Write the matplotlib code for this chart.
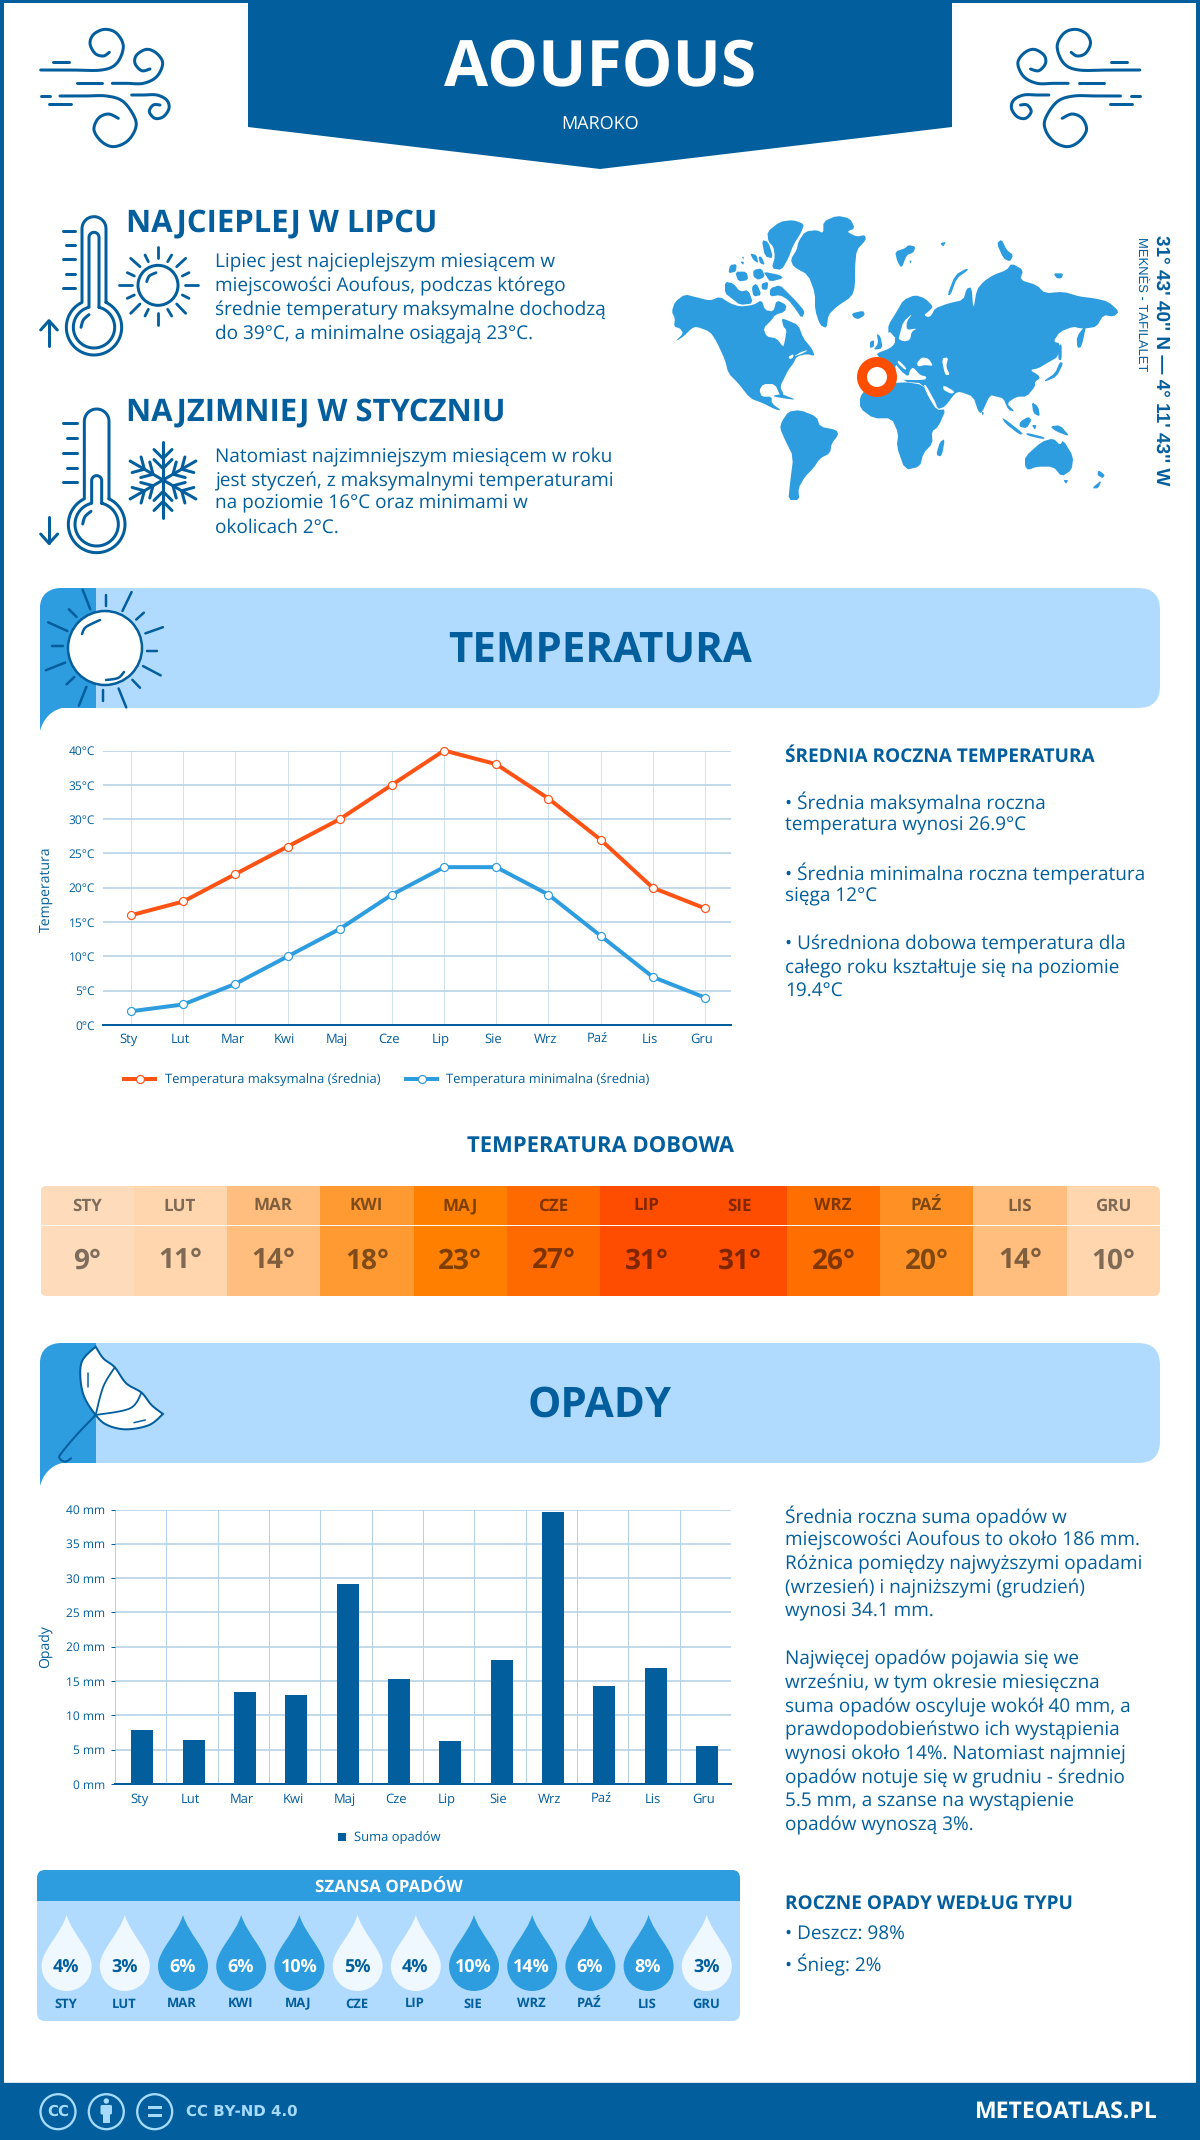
#!/usr/bin/env python3
"""
Climate infographic for Aoufous (Maroko)
Temperature line chart, daily table, rainfall bars, chance of rain
"""

import numpy as np
import matplotlib
matplotlib.use('Agg')
import matplotlib.pyplot as plt
from matplotlib.patches import Circle, FancyBboxPatch, PathPatch, Polygon, Rectangle
from matplotlib.path import Path
from matplotlib.transforms import ScaledTranslation

plt.rcParams['font.family'] = ['Open Sans', 'DejaVu Sans']
plt.rcParams['text.hinting'] = 'none'
plt.rcParams['text.hinting_factor'] = 1

# ----- data -----
months = ['Sty', 'Lut', 'Mar', 'Kwi', 'Maj', 'Cze', 'Lip', 'Sie', 'Wrz', 'Paź', 'Lis', 'Gru']
months_upper = ['STY', 'LUT', 'MAR', 'KWI', 'MAJ', 'CZE', 'LIP', 'SIE', 'WRZ', 'PAŹ', 'LIS', 'GRU']
temp_max = [16, 18, 22, 26, 30, 35, 40, 38, 33, 27, 20, 17]
temp_min = [2, 3, 6, 10, 14, 19, 23, 23, 19, 13, 7, 4]
temp_daily = [9, 11, 14, 18, 23, 27, 31, 31, 26, 20, 14, 10]
daily_colors = ['#FEDBBB', '#FFD6AE', '#FFBE7D', '#FF9A33', '#FF8000', '#FF6A00',
                '#FF4D00', '#FF4D00', '#FF6E00', '#FF9124', '#FFBE7D', '#FFD6AE']
rain = [7.9, 6.4, 13.4, 13.0, 29.1, 15.3, 6.3, 18.0, 39.6, 14.3, 16.9, 5.5]
rain_chance = [4, 3, 6, 6, 10, 5, 4, 10, 14, 6, 8, 3]

NAVY = '#025E9C'
MID = '#2E9DDF'
LIGHT = '#B0DBFF'
ORANGE = '#FF5316'
RING = '#FF4E00'
GRID = '#B4D2E6'
PALE = '#A6DBFF'

W, H = 1200, 2140


def px(v):
    """pixels to points at dpi 100"""
    return v * 0.72


fig = plt.figure(figsize=(W / 100, H / 100), dpi=100, facecolor='white')
bg = fig.add_axes([0, 0, 1, 1])
bg.set_xlim(0, W)
bg.set_ylim(H, 0)
bg.axis('off')


def text(x, y, s, size, color=NAVY, weight='normal', ha='left', va='center', **kw):
    return bg.text(x, y, s, fontsize=px(size), color=color, fontweight=weight, ha=ha, va=va, **kw)


def stroke(points, lw=2.5, color=NAVY, zorder=3):
    pts = np.array(points, dtype=float)
    bg.plot(pts[:, 0], pts[:, 1], color=color, lw=px(lw), solid_capstyle='round',
            solid_joinstyle='round', zorder=zorder)


def smooth(points, n=12):
    """Catmull-Rom curve through the points"""
    p = np.array(points, dtype=float)
    p = np.vstack([p[0], p, p[-1]])
    out = []
    for i in range(1, len(p) - 2):
        for t in np.linspace(0, 1, n, endpoint=False):
            out.append(0.5 * (2 * p[i] + (p[i + 1] - p[i - 1]) * t
                              + (2 * p[i - 1] - 5 * p[i] + 4 * p[i + 1] - p[i + 2]) * t ** 2
                              + (3 * p[i] - p[i - 1] - 3 * p[i + 1] + p[i + 2]) * t ** 3))
    out.append(p[-2])
    return np.array(out)


def rounded(x0, y0, x1, y1, r, color, zorder=1):
    patch = FancyBboxPatch((x0, y0), x1 - x0, y1 - y0, boxstyle=f'round,pad=0,rounding_size={r}',
                           fc=color, ec='none', zorder=zorder)
    bg.add_patch(patch)
    return patch


# ----- frame and header -----
bg.add_patch(Rectangle((0, 0), 4, H, fc=NAVY, ec='none'))
bg.add_patch(Rectangle((W - 4, 0), 4, H, fc=NAVY, ec='none'))
bg.add_patch(Rectangle((0, 0), W, 3, fc=NAVY, ec='none'))
bg.add_patch(Polygon([(248, 0), (952, 0), (952, 127), (600, 169), (248, 127)], fc=NAVY, ec='none'))
text(600, 70, 'AOUFOUS', 64, 'white', 'bold', ha='center')
text(600, 124, 'MAROKO', 18, 'white', ha='center')


# ----- wind icons -----
def wind(mirror=False):
    def tr(pts):
        pts = np.array(pts, dtype=float)
        xs = 20 + pts[:, 0] / 3
        ys = 10 + pts[:, 1] / 3
        if mirror:
            xs = 1180.5 - xs
        return np.column_stack([xs, ys])

    curls = [
        [(62, 180), (150, 180), (245, 180), (290, 160), (310, 110), (290, 70), (255, 58),
         (222, 72), (210, 100), (225, 130), (250, 138), (268, 127)],
        [(277, 220), (320, 220), (370, 220), (410, 200), (428, 160), (410, 130), (380, 118),
         (350, 135), (345, 160), (365, 182), (390, 177)],
        [(120, 258), (190, 258), (260, 258), (310, 275), (345, 325), (345, 360), (320, 395),
         (280, 410), (245, 395), (222, 360), (235, 325), (265, 312), (295, 325)],
        [(335, 255), (370, 255), (410, 255), (440, 270), (447, 295), (430, 320), (405, 325),
         (388, 305), (400, 285), (420, 285)],
    ]
    for c in curls:
        stroke(tr(smooth(c)), 3)
    for d in [[(100, 155), (148, 155)], [(170, 220), (245, 220)],
              [(62, 258), (90, 258)], [(87, 283), (153, 283)]]:
        stroke(tr(d), 3)


wind()
wind(mirror=True)


# ----- thermometers -----
def thermometer(ox, oy, cx, top, cy, R, neck, inner_R, inner_neck, inner_top, ticks, arrow, hl):
    def tr(pts):
        pts = np.array(pts, dtype=float)
        return np.column_stack([ox + pts[:, 0] / 3, oy + pts[:, 1] / 3])

    def outline(radius, half, y_top):
        # bulb runs right to left round the bottom, cap goes back left to right over the top
        t0 = np.pi - np.arcsin(half / radius)
        t = np.linspace(t0, -t0, 70)
        bulb = np.column_stack([cx + radius * np.sin(t), cy + radius * np.cos(t)])
        a = np.linspace(np.pi, 0, 24)
        cap = np.column_stack([cx + half * np.cos(a), y_top + half - half * np.sin(a)])
        path = np.vstack([bulb, cap])
        return np.vstack([path, path[0]])

    stroke(tr(outline(R, neck, top)), 3)
    stroke(tr(outline(inner_R, inner_neck, inner_top)), 3)
    for t in ticks:
        stroke(tr(t), 3)
    for a in arrow:
        stroke(tr(a), 3)
    stroke(tr(smooth(hl)), 3)


thermometer(20, 200, 222, 50, 382, 83, 36, 62, 15, 97,
            [[(128, 93), (165, 93)], [(138, 136), (165, 136)], [(128, 178), (165, 178)],
             [(138, 221), (165, 221)], [(128, 264), (165, 264)]],
            [[(87, 438), (87, 362)], [(62, 390), (87, 362), (112, 390)]],
            [(183, 382), (190, 360), (207, 344)])
thermometer(20, 390, 230, 57, 403, 85, 37, 65, 15, 257,
            [[(130, 100), (170, 100)], [(140, 145), (170, 145)], [(130, 188), (170, 188)],
             [(140, 233), (170, 233)], [(130, 277), (170, 277)]],
            [[(87, 380), (87, 460)], [(62, 432), (87, 460), (113, 432)]],
            [(188, 402), (195, 380), (213, 364)])

# small sun next to the hot thermometer
sun_pts = [[(414, 140), (414, 175)], [(414, 338), (414, 375)], [(297, 256), (335, 256)],
           [(495, 256), (533, 256)], [(332, 175), (360, 200)], [(497, 175), (470, 200)],
           [(332, 340), (360, 312)], [(497, 340), (470, 312)], [(375, 165), (385, 185)],
           [(455, 165), (443, 185)], [(322, 218), (343, 228)], [(507, 218), (487, 228)],
           [(322, 295), (343, 285)], [(507, 295), (487, 285)], [(375, 348), (385, 328)],
           [(455, 348), (443, 328)]]
for s in sun_pts:
    pts = np.array(s, dtype=float)
    stroke(np.column_stack([20 + pts[:, 0] / 3, 200 + pts[:, 1] / 3]), 2.8)
bg.add_patch(Circle((20 + 414 / 3, 200 + 256 / 3), 20, fc='white', ec=NAVY, lw=px(3), zorder=3))
hl = smooth([(380, 245), (388, 228), (408, 218)])
stroke(np.column_stack([20 + hl[:, 0] / 3, 200 + hl[:, 1] / 3]), 2.8, zorder=4)

# snowflake
flake_c = np.array([20 + 429 / 3, 390 + 270 / 3])
for ang in np.deg2rad([90, 30, -30, -90, -150, 150]):
    d = np.array([np.cos(ang), -np.sin(ang)])
    n = np.array([-d[1], d[0]])
    stroke([flake_c, flake_c + d * 38], 3)
    for r in (11.5, 21.5):
        stroke([flake_c + d * (r + 9) + n * 9, flake_c + d * r, flake_c + d * (r + 9) - n * 9], 3)

# ----- intro text -----
text(126, 223, 'NAJCIEPLEJ W LIPCU', 31.3, weight='bold')
for y, s in zip([262.5, 286, 310, 334], [
        'Lipiec jest najcieplejszym miesiącem w',
        'miejscowości Aoufous, podczas którego',
        'średnie temperatury maksymalne dochodzą',
        'do 39°C, a minimalne osiągają 23°C.']):
    text(215, y, s, 19)
text(126, 412.5, 'NAJZIMNIEJ W STYCZNIU', 31.3, weight='bold')
for y, s in zip([457, 481, 504, 528], [
        'Natomiast najzimniejszym miesiącem w roku',
        'jest styczeń, z maksymalnymi temperaturami',
        'na poziomie 16°C oraz minimami w',
        'okolicach 2°C.']):
    text(215, y, s, 19)

# ----- world map -----
map_left = [
    # north america
    [(35, 335), (45, 305), (75, 283), (110, 292), (150, 302), (180, 290), (210, 310), (240, 320),
     (280, 315), (305, 300), (315, 330), (340, 335), (350, 300), (380, 315), (375, 335), (345, 345),
     (335, 360), (310, 385), (320, 410), (350, 415), (370, 442), (375, 420), (380, 390), (370, 380),
     (365, 355), (380, 360), (415, 375), (430, 415), (455, 445), (465, 468), (440, 462), (410, 470),
     (400, 490), (385, 510), (375, 530), (360, 560), (372, 585), (362, 590), (345, 552), (310, 552),
     (298, 570), (305, 590), (335, 590), (335, 610), (365, 632), (345, 628), (310, 610), (270, 595),
     (235, 550), (205, 520), (195, 480), (170, 425), (150, 395), (110, 380), (95, 385), (70, 410),
     (45, 425), (70, 400), (60, 385), (42, 380), (45, 355)],
    # greenland
    [(415, 125), (435, 95), (470, 90), (490, 100), (490, 65), (530, 47), (570, 55), (585, 85),
     (560, 95), (590, 110), (615, 105), (618, 120), (590, 150), (585, 200), (585, 260), (575, 290),
     (530, 320), (505, 345), (500, 385), (480, 375), (465, 330), (465, 280), (445, 225), (400, 200),
     (392, 178), (410, 150)],
    # arctic islands, from the closer crop
    [(322, 95), (360, 65), (400, 60), (432, 72), (425, 95), (400, 135), (385, 175), (365, 210),
     (335, 205), (345, 170), (340, 140), (325, 125)],
    [(330, 265), (360, 255), (385, 280), (410, 305), (435, 335), (425, 355), (405, 325), (385, 300),
     (360, 285), (330, 290)],
    [(195, 245), (220, 250), (240, 275), (265, 270), (280, 310), (240, 315), (215, 295), (195, 280)],
    [(210, 195), (230, 192), (228, 215), (205, 220)],
    [(225, 215), (260, 215), (265, 240), (235, 245)],
    [(280, 210), (305, 205), (315, 230), (295, 240), (280, 230)],
    [(310, 215), (360, 225), (370, 235), (330, 245), (320, 230)],
    [(305, 250), (325, 245), (322, 270), (305, 268)],
    [(290, 250), (305, 285), (280, 290), (275, 260)],
    [(270, 160), (290, 165), (295, 190), (280, 180)],
    [(295, 170), (305, 170), (315, 195), (300, 190)],
    [(240, 185), (252, 185), (250, 195)],
    [(245, 170), (252, 172), (250, 178)],
    [(305, 120), (325, 125), (340, 175), (315, 170)],
    # iceland, britain, ireland, svalbard
    [(575, 340), (610, 332), (615, 345), (595, 358), (580, 352)],
    [(650, 400), (662, 410), (668, 445), (640, 450), (655, 430)],
    [(630, 425), (642, 420), (642, 440), (630, 445)],
    [(705, 155), (735, 145), (745, 135), (767, 140), (760, 158), (740, 165), (725, 205), (712, 185)],
    [(748, 182), (755, 182), (752, 192)],
    # caribbean
    [(335, 588), (365, 582), (410, 600), (370, 595)],
    # south america
    [(365, 665), (385, 635), (420, 630), (470, 650), (480, 680), (530, 690), (535, 705), (515, 730),
     (510, 760), (480, 775), (460, 805), (435, 830), (415, 865), (418, 900), (385, 900), (390, 850),
     (400, 770), (375, 720), (360, 685)],
]
map_left_water = [
    # gulf of st lawrence, great lakes
    [(400, 470), (425, 455), (445, 450), (425, 462)],
    [(385, 470), (400, 462), (400, 472), (390, 478)],
]
map_right = [
    # eurasia
    [(55, 470), (50, 460), (90, 445), (105, 430), (105, 410), (130, 425), (150, 420), (155, 395),
     (172, 385), (140, 390), (140, 365), (158, 340), (130, 365), (120, 400), (115, 420), (102, 410),
     (90, 395), (85, 400), (85, 375), (110, 335), (130, 300), (165, 285), (195, 295), (220, 320),
     (205, 335), (192, 345), (205, 352), (215, 345), (225, 325), (265, 310), (310, 300), (320, 265),
     (335, 262), (340, 330), (350, 270), (370, 245), (400, 225), (440, 210), (455, 190), (490, 210),
     (480, 240), (530, 255), (555, 280), (610, 275), (660, 290), (705, 295), (745, 305), (778, 335),
     (760, 350), (730, 345), (710, 380), (680, 385), (660, 385), (640, 380), (600, 395), (580, 425),
     (600, 430), (595, 470), (560, 490), (535, 505), (510, 510), (535, 525), (540, 535), (525, 545),
     (525, 560), (500, 590), (470, 590), (440, 610), (465, 635), (445, 630), (430, 595), (410, 590),
     (390, 585), (365, 640), (355, 635), (340, 590), (300, 575), (285, 580), (255, 620), (232, 628),
     (190, 550), (130, 545), (100, 500)],
    # africa
    [(0, 590), (20, 565), (60, 560), (130, 545), (190, 555), (205, 590), (230, 630), (258, 628),
     (235, 680), (215, 695), (218, 730), (190, 760), (180, 800), (135, 810), (110, 740), (115, 700),
     (95, 655), (40, 655), (0, 625)],
    # islands
    [(240, 725), (255, 717), (245, 770), (228, 765)],
    [(650, 410), (680, 370), (665, 440), (652, 445)],
    [(555, 540), (585, 520), (600, 485), (610, 490), (590, 530), (555, 545)],
    [(595, 440), (605, 430), (605, 480), (595, 480)],
    [(262, 285), (285, 225), (320, 205), (325, 210), (290, 235), (272, 285)],
    [(240, 130), (258, 125), (250, 140)],
    [(410, 130), (425, 118), (440, 150), (460, 165), (450, 185), (430, 175)],
    [(580, 220), (610, 220), (605, 235), (590, 235)],
    [(425, 650), (490, 700), (480, 705), (435, 670)],
    [(500, 698), (555, 712), (550, 718), (500, 706)],
    [(480, 665), (505, 650), (515, 660), (500, 685), (478, 680)],
    [(515, 605), (535, 620), (540, 650), (520, 640)],
    [(515, 675), (530, 675), (525, 690)],
    [(570, 680), (600, 675), (630, 710), (590, 695)],
    [(495, 770), (545, 725), (580, 715), (600, 735), (610, 720), (640, 770), (635, 810), (605, 830),
     (580, 800), (530, 800), (505, 810), (495, 800)],
    [(610, 840), (625, 840), (618, 852)],
    [(715, 810), (735, 825), (728, 835), (712, 825)],
    [(695, 865), (725, 840), (715, 865)],
    [(365, 635), (372, 638), (368, 648)],
]
map_right_water = [
    # mediterranean, adriatic
    [(105, 490), (125, 515), (145, 530), (150, 510), (160, 502), (180, 525), (200, 530), (195, 540),
     (130, 540), (110, 535)],
    [(115, 480), (140, 505), (135, 510), (112, 488)],
    # black sea, caspian, red sea, gulf
    [(170, 490), (185, 472), (205, 475), (220, 498), (195, 495), (175, 500)],
    [(245, 475), (265, 472), (258, 500), (270, 525), (255, 525)],
    [(190, 555), (198, 555), (232, 618), (224, 620)],
    [(250, 555), (285, 575), (275, 582), (250, 570)],
]


def cut_corners(p):
    """one pass of corner cutting so the coasts do not look like straight rulers"""
    nxt = np.roll(p, -1, axis=0)
    q = np.empty((len(p) * 2, 2))
    q[0::2] = 0.8 * p + 0.2 * nxt
    q[1::2] = 0.2 * p + 0.8 * nxt
    return q


def add_polys(polys, ox, color, zorder):
    for poly in polys:
        p = cut_corners(np.array(poly, dtype=float))
        bg.add_patch(Polygon(np.column_stack([ox + p[:, 0] / 3, 200 + p[:, 1] / 3]), fc=color, ec='none', zorder=zorder))


add_polys(map_left, 660, MID, 1)
add_polys(map_left_water, 660, 'white', 2)
add_polys(map_right, 860, MID, 1)
add_polys(map_right_water, 860, 'white', 2)
bg.add_patch(Circle((877, 377), 15, fc='white', ec=RING, lw=px(10), zorder=4))

text(1161.5, 235, "31° 43' 40'' N — 4° 11' 43'' W", 18.9, weight='bold', ha='center', va='top',
     rotation=-90, family=['Liberation Sans'])
text(1141.5, 237, 'MEKNÈS - TAFILALET', 13, ha='center', va='top', rotation=-90, family=['Liberation Sans'])


# ----- section banners -----
def banner(y0, title):
    y1 = y0 + 120
    rounded(40, y0, 1160, y1, 22, LIGHT)
    verts = [(40, y1 + 23), (40, y0 + 20), (40, y0 + 6), (50, y0), (62, y0), (96, y0), (96, y1),
             (62, y1), (50, y1 + 3), (43, y1 + 12), (40, y1 + 23)]
    codes = [Path.MOVETO, Path.LINETO, Path.CURVE4, Path.CURVE4, Path.CURVE4, Path.LINETO, Path.LINETO,
             Path.LINETO, Path.CURVE4, Path.CURVE4, Path.CURVE4]
    bg.add_patch(PathPatch(Path(verts, codes), fc=MID, ec='none', zorder=2))
    text(600, y0 + 63, title, 42.5, weight='bold', ha='center', zorder=5)


banner(588, 'TEMPERATURA')
banner(1343, 'OPADY')

# big sun in the temperature banner
rays = [[(139, 45), (139, 75)], [(172, 35), (160, 90)], [(108, 28), (118, 85)], [(178, 115), (188, 95)],
        [(190, 155), (213, 137)], [(192, 205), (205, 205)], [(187, 250), (210, 277)], [(173, 290), (183, 313)],
        [(155, 315), (165, 370)], [(135, 320), (135, 352)], [(113, 310), (103, 365)], [(97, 282), (87, 303)],
        [(85, 240), (60, 262)], [(82, 193), (68, 193)], [(88, 148), (63, 123)], [(100, 107), (90, 85)]]
for r in rays:
    p = np.array(r, dtype=float)
    stroke(np.column_stack([p[:, 0] / 1.307, 580 + p[:, 1] / 2.904]), 2.5)
bg.add_patch(Circle((105, 648), 37, fc='white', ec=NAVY, lw=px(2.5), zorder=4))
stroke(smooth([(82, 634), (86, 627), (100, 620)]), 2.5, zorder=5)
stroke(smooth([(106, 680), (118, 678), (124, 672)]), 2.5, zorder=5)


# umbrella in the rain banner
def ux(p):
    p = np.array(p, dtype=float)
    return np.column_stack([p[:, 0] / 1.307, 1120 + p[:, 1] / 3])


lower = smooth([(125, 680), (108, 720), (105, 770), (110, 830), (125, 885), (140, 915), (165, 928),
                (195, 915), (213, 882)])
edge = smooth([(213, 882), (198, 855), (185, 818), (165, 790), (150, 742), (135, 715), (125, 680)])
stroke(ux(smooth([(125, 885), (100, 945), (80, 1000), (78, 1015), (85, 1025), (93, 1015)])), 2, zorder=3)
bg.add_patch(Polygon(ux(np.vstack([lower, edge])), fc='white', ec=NAVY, lw=px(2), zorder=4))
stroke(ux(smooth([(150, 742), (135, 800), (125, 885)])), 1.8, zorder=5)
stroke(ux(smooth([(185, 818), (170, 865), (125, 885)])), 1.8, zorder=5)
stroke(ux([(115, 760), (115, 800)]), 1.5, zorder=5)
stroke(ux([(175, 908), (190, 900)]), 1.5, zorder=5)


# ----- temperature chart -----
def axes_px(x0, y0, x1, y1):
    ax = fig.add_axes([x0 / W, 1 - y1 / H, (x1 - x0) / W, (y1 - y0) / H])
    ax.set_facecolor('none')
    for s in ('top', 'right', 'left'):
        ax.spines[s].set_visible(False)
    ax.spines['bottom'].set_color(NAVY)
    ax.spines['bottom'].set_linewidth(px(2))
    ax.grid(True, axis='y', color=GRID, lw=px(1.6))
    ax.set_axisbelow(True)
    return ax


ax = axes_px(103, 750.5, 731, 1025)
x = np.arange(12)
ax.grid(True, axis='x', color=GRID, lw=px(0.8), alpha=0.8)
ax.plot(x, temp_max, color=ORANGE, lw=px(4), marker='o', ms=px(8), mfc='white', mec=ORANGE, mew=px(1.2),
        clip_on=False, zorder=3, label='Temperatura maksymalna (średnia)')
ax.plot(x, temp_min, color=MID, lw=px(4), marker='o', ms=px(8), mfc='white', mec=MID, mew=px(1.2),
        clip_on=False, zorder=3, label='Temperatura minimalna (średnia)')
ax.set_xlim(-0.54, 11.5)
ax.set_ylim(0, 40)
ax.set_yticks(range(0, 41, 5))
ax.set_yticklabels([f'{v}°C' for v in range(0, 41, 5)])
ax.set_xticks(x)
ax.set_xticklabels(months)
ax.tick_params(axis='y', length=0, pad=px(8), labelsize=px(12), labelcolor=NAVY)
ax.tick_params(axis='x', length=0, pad=px(8), labelsize=px(13), labelcolor=NAVY)
shift = ScaledTranslation(-0.03, 0, fig.dpi_scale_trans)
for lab in ax.get_xticklabels():
    lab.set_transform(lab.get_transform() + shift)
text(46, 889, 'Temperatura', 13.5, rotation=90, ha='center', color=NAVY, zorder=5)
ax.legend(loc='center', bbox_to_anchor=(387 / W, 1 - 1080 / H), bbox_transform=fig.transFigure, ncol=2,
          frameon=False, fontsize=px(13), labelcolor=NAVY, handlelength=2.4, handletextpad=0.7,
          columnspacing=2.0, borderpad=0)

# right column, temperature
text(785, 757, 'ŚREDNIA ROCZNA TEMPERATURA', 19, weight='bold')
for y, s in zip([803, 826, 874, 897, 944, 968, 992], [
        '• Średnia maksymalna roczna', 'temperatura wynosi 26.9°C',
        '• Średnia minimalna roczna temperatura', 'sięga 12°C',
        '• Uśredniona dobowa temperatura dla', 'całego roku kształtuje się na poziomie', '19.4°C']):
    text(785, y, s, 19.05)

# ----- daily temperature table -----
text(600, 1147, 'TEMPERATURA DOBOWA', 22.2, weight='bold', ha='center')
tx0, tx1, ty0, ty1 = 40.5, 1160, 1186, 1296
clip = rounded(tx0, ty0, tx1, ty1, 6, 'none', zorder=0)
cell = (tx1 - tx0) / 12
for i in range(12):
    r = Rectangle((tx0 + i * cell, ty0), cell + 0.5, ty1 - ty0, fc=daily_colors[i], ec='none', zorder=1)
    bg.add_patch(r)
    r.set_clip_path(clip)
    cx = tx0 + (i + 0.5) * cell
    text(cx - 0.5, 1206, months_upper[i], 17, 'black', 'bold', ha='center', alpha=0.5, zorder=3)
    text(cx, 1261, f'{temp_daily[i]}°', 28, 'black', 'bold', ha='center', alpha=0.5, zorder=3)
bg.add_patch(Rectangle((tx0, 1224.5), tx1 - tx0, 1.8, fc='white', ec='none', zorder=2))

# ----- rain chart -----
ax2 = axes_px(115, 1509.5, 731, 1784)
ax2.bar(x + 0.03, rain, width=0.43, color=NAVY, zorder=3, label='Suma opadów')
ax2.set_xlim(-0.5, 11.5)
ax2.set_ylim(0, 40)
ax2.set_xticks(x - 0.5, minor=True)
ax2.set_xticks(x)
ax2.set_xticklabels(months)
ax2.set_yticks(range(0, 41, 5))
ax2.set_yticklabels([f'{v} mm' for v in range(0, 41, 5)])
ax2.grid(True, axis='x', which='minor', color=GRID, lw=px(1))
ax2.tick_params(axis='x', which='both', length=0)
ax2.tick_params(axis='x', pad=px(9), labelsize=px(13), labelcolor=NAVY)
ax2.tick_params(axis='y', length=px(4), width=px(1), color=NAVY, pad=px(6), labelsize=px(12), labelcolor=NAVY)
shift2 = ScaledTranslation(-0.015, 0, fig.dpi_scale_trans)
for lab in ax2.get_xticklabels():
    lab.set_transform(lab.get_transform() + shift2)
text(46, 1647, 'Opady', 13.5, rotation=90, ha='center', zorder=5)
ax2.legend(loc='center', bbox_to_anchor=(389 / W, 1 - 1838.5 / H), bbox_transform=fig.transFigure,
           frameon=False, fontsize=px(13), labelcolor=NAVY, handlelength=0.6, handleheight=0.6,
           handletextpad=0.6, borderpad=0)

# right column, rain
for y, s in zip([1517, 1540, 1564, 1588, 1612, 1659, 1683, 1707, 1730, 1754, 1778, 1802, 1825], [
        'Średnia roczna suma opadów w', 'miejscowości Aoufous to około 186 mm.',
        'Różnica pomiędzy najwyższymi opadami', '(wrzesień) i najniższymi (grudzień)', 'wynosi 34.1 mm.',
        'Najwięcej opadów pojawia się we', 'wrześniu, w tym okresie miesięczna',
        'suma opadów oscyluje wokół 40 mm, a', 'prawdopodobieństwo ich wystąpienia',
        'wynosi około 14%. Natomiast najmniej', 'opadów notuje się w grudniu - średnio',
        '5.5 mm, a szanse na wystąpienie', 'opadów wynoszą 3%.']):
    text(785, y, s, 19.05)
text(785, 1904, 'ROCZNE OPADY WEDŁUG TYPU', 19, weight='bold')
text(785, 1935, '• Deszcz: 98%', 19.05)
text(785, 1965, '• Śnieg: 2%', 19.05)

# ----- chance of rain -----
box = rounded(37, 1870, 740, 2021, 8, 'none', zorder=0)
head = Rectangle((37, 1870), 703, 31, fc=MID, ec='none', zorder=1)
body = Rectangle((37, 1901), 703, 120, fc=LIGHT, ec='none', zorder=1)
bg.add_patch(head)
bg.add_patch(body)
head.set_clip_path(box)
body.set_clip_path(box)
text(388.5, 1887, 'SZANSA OPADÓW', 16.5, 'white', 'bold', ha='center', zorder=3)
for i, v in enumerate(rain_chance):
    cx = 66.6 + i * 58.2
    dark = v >= 6
    verts = [(cx, 1915), (cx + 6, 1935), (cx + 25, 1950), (cx + 25, 1966),
             (cx + 25, 1980), (cx + 14, 1991), (cx, 1991),
             (cx - 14, 1991), (cx - 25, 1980), (cx - 25, 1966),
             (cx - 25, 1950), (cx - 6, 1935), (cx, 1915)]
    codes = [Path.MOVETO] + [Path.CURVE4] * 12
    bg.add_patch(PathPatch(Path(verts, codes), fc=MID if dark else '#EFF7FF', ec='none', zorder=2))
    text(cx - 0.5, 1967, f'{v}%', 18.5, 'white' if dark else NAVY, 'bold', ha='center', zorder=3)
    text(cx - 1, 2004, months_upper[i], 13, NAVY, 'bold', ha='center', zorder=3)

# ----- footer -----
bg.add_patch(Rectangle((0, 2083), W, H - 2083, fc=NAVY, ec='none', zorder=1))
bg.add_patch(Rectangle((4, 2082), W - 8, 1.2, fc='#D5E6F2', ec='none', zorder=1))
for cx in (58, 106.3, 154.7):
    bg.add_patch(Circle((cx, 2111.7), 17.5, fc='none', ec=PALE, lw=px(2.3), zorder=3))
text(58, 2111.7, 'CC', 15, PALE, 'bold', ha='center', family=['DejaVu Sans'], zorder=3)
bg.add_patch(Circle((106.3, 2101), 2.7, fc=PALE, ec='none', zorder=3))
bg.add_patch(FancyBboxPatch((100.5, 2105), 11.5, 9.5, boxstyle='round,pad=0,rounding_size=1.5', fc=PALE, ec='none', zorder=3))
bg.add_patch(Rectangle((103, 2112), 6.6, 11, fc=PALE, ec='none', zorder=3))
bg.add_patch(Rectangle((148, 2105.5), 13.5, 3.5, fc=PALE, ec='none', zorder=3))
bg.add_patch(Rectangle((148, 2113.5), 13.5, 3.5, fc=PALE, ec='none', zorder=3))
text(186, 2111.5, 'CC BY-ND 4.0', 15.3, PALE, 'bold', family=['DejaVu Sans'], zorder=3)
text(1158, 2112, 'METEOATLAS.PL', 23, 'white', 'bold', ha='right', zorder=3)

fig.savefig('out.png', dpi=100)
plt.close(fig)
